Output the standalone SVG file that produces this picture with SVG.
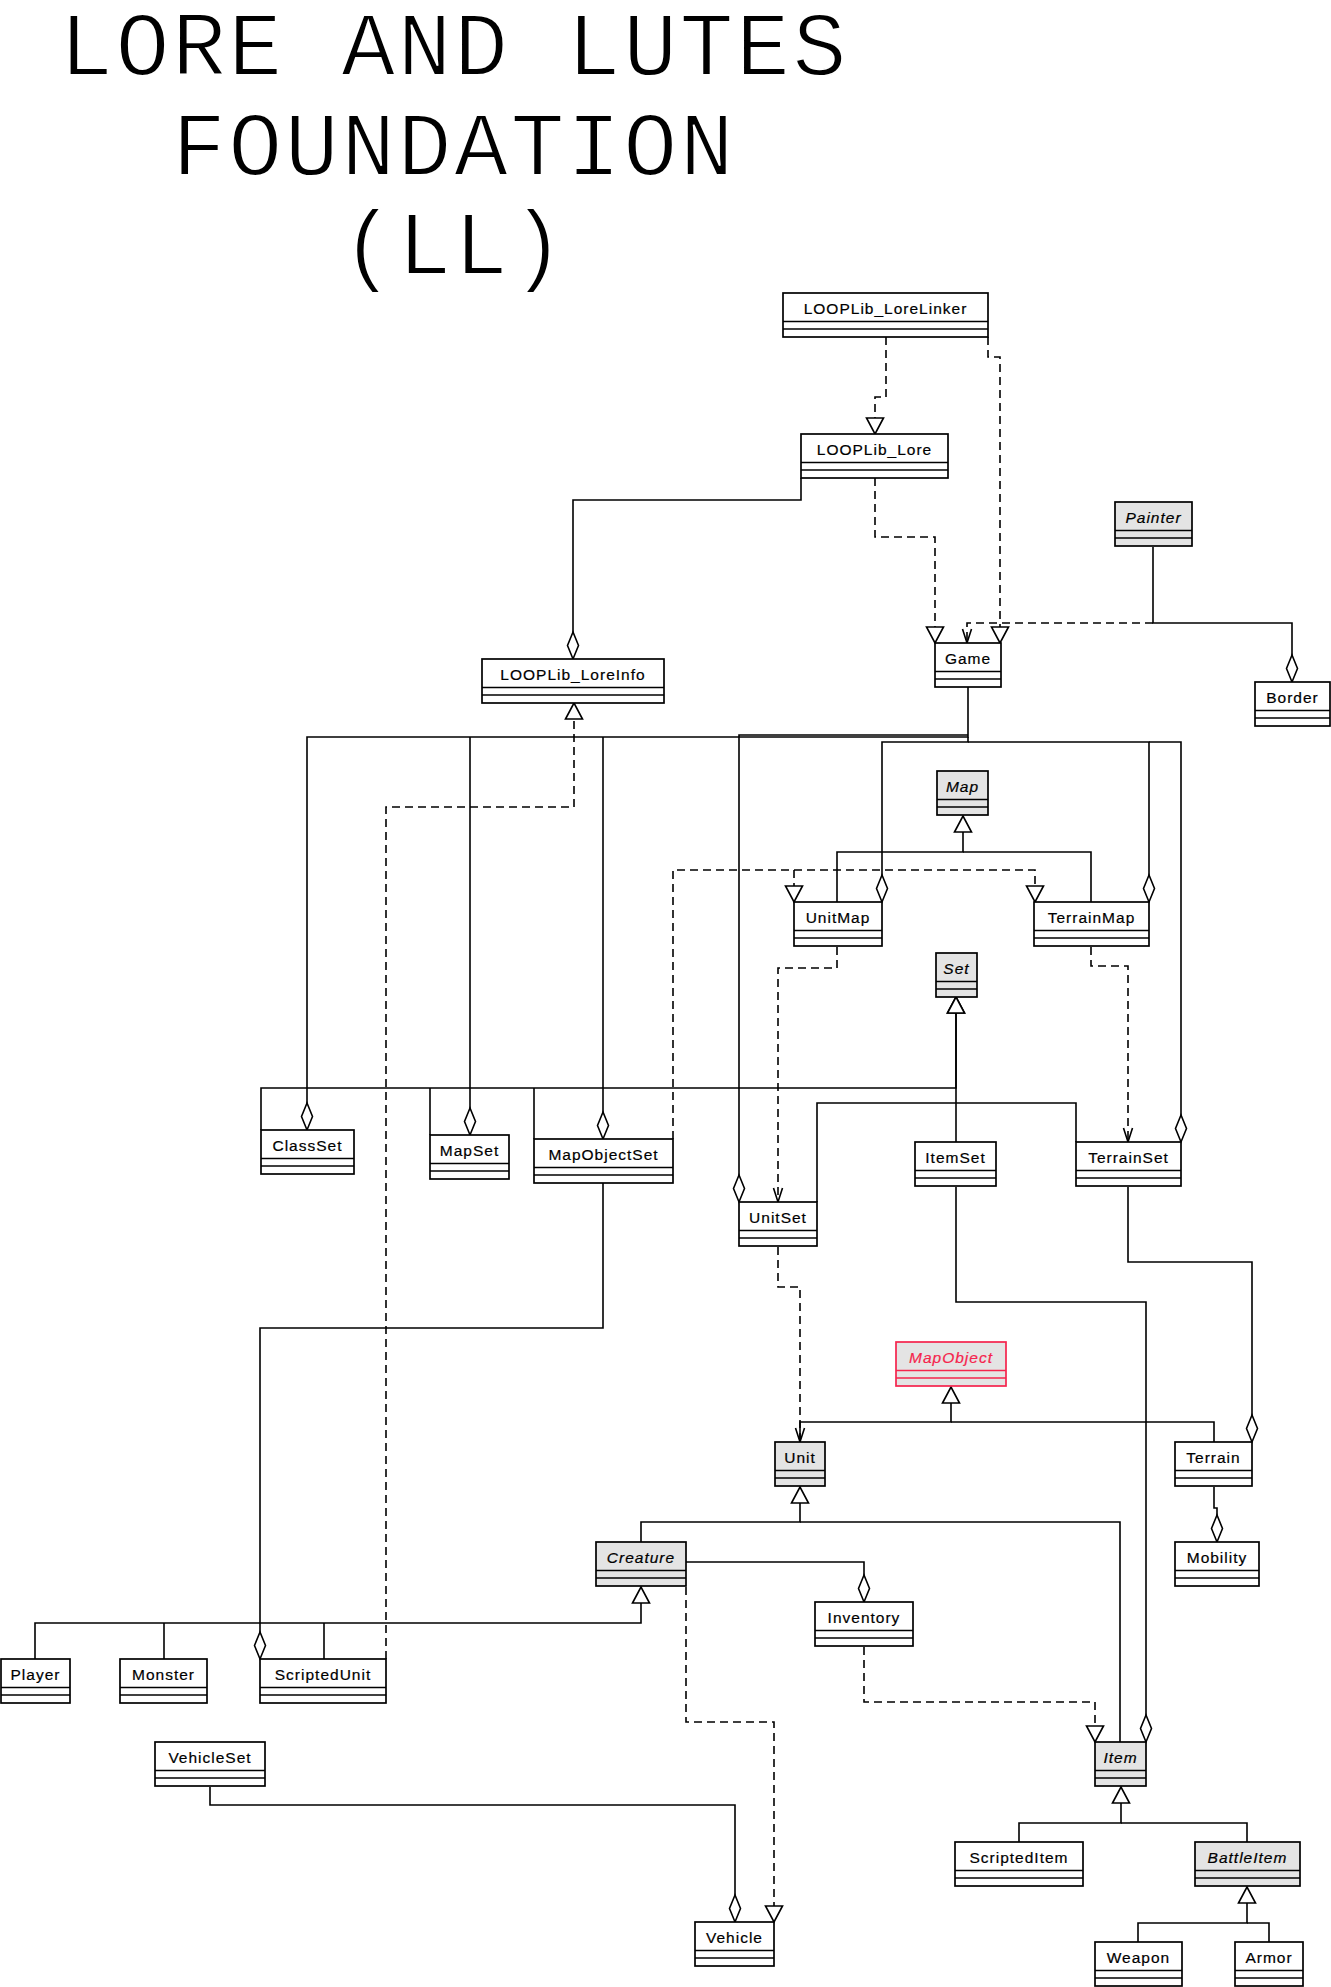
<svg xmlns="http://www.w3.org/2000/svg" width="1331" height="1987" viewBox="0 0 1331 1987">
<style>
.bg{fill:#fff}
.title{font-family:"Liberation Mono","Courier New",monospace;font-size:90px;letter-spacing:2.4px;text-anchor:middle;fill:#000;stroke:#fff;stroke-width:1.8px}
.box rect{fill:#fff;stroke:#000;stroke-width:1.7}
.box line{stroke:#000;stroke-width:1.7}
.box text{font-family:"Liberation Sans",Arial,sans-serif;font-size:15.5px;letter-spacing:1px;text-anchor:middle;fill:#000;stroke:#000;stroke-width:0.2px}
.box.gray rect{fill:#e4e4e4}
.box.it text{font-style:italic}
.box.red rect{stroke:#f5244d}
.box.red line{stroke:#f5244d}
.box.red text{fill:#f5244d;stroke:#f5244d}
.c path{fill:none;stroke:#000;stroke-width:1.6}
.c .d{stroke-dasharray:8,5}
.c .gen{marker-end:url(#tri)}
.c .agg{marker-end:url(#dia)}
.c .dep{marker-end:url(#open)}
</style>
<defs>
<marker id="tri" markerUnits="userSpaceOnUse" markerWidth="18" markerHeight="18" refX="16" refY="8.5" orient="auto" overflow="visible">
<path d="M0,0 L16,8.5 L0,17 Z" fill="#fff" stroke="#000" stroke-width="1.6"/>
</marker>
<marker id="dia" markerUnits="userSpaceOnUse" markerWidth="28" markerHeight="12" refX="27" refY="5.5" orient="auto" overflow="visible">
<path d="M0,5.5 L13.5,0 L27,5.5 L13.5,11 Z" fill="#fff" stroke="#000" stroke-width="1.6"/>
</marker>
<marker id="open" markerUnits="userSpaceOnUse" markerWidth="15" markerHeight="10" refX="14" refY="4.5" orient="auto" overflow="visible">
<path d="M0,0 L14,4.5 L0,9" fill="none" stroke="#000" stroke-width="1.6"/>
</marker>
</defs>
<rect class="bg" x="0" y="0" width="1331" height="1987"/>
<g id="title">
<text class="title" x="454" y="75">LORE AND LUTES</text>
<text class="title" x="454" y="175">FOUNDATION</text>
<text class="title" x="454" y="274">(LL)</text>
</g>
<g id="connectors" class="c">
<!-- realizations (dashed, hollow triangle) -->
<path class="d gen" d="M886,337 V397 H875 V434"/>
<path class="d gen" d="M988,337 V357 H1000 V643"/>
<path class="d gen" d="M875,478 V537 H935 V643"/>
<path class="d gen" d="M386,1659 V807 H574 V703"/>
<path class="d gen" d="M673,1139 V870 H794 V902"/>
<path class="d gen" d="M794,870 H1035 V902"/>
<path class="d gen" d="M864,1647 V1702 H1095 V1742"/>
<path class="d gen" d="M686,1587 V1722 H774 V1922"/>
<!-- dependencies (dashed, open arrow) -->
<path class="d dep" d="M1153,623 H967 V643"/>
<path class="d dep" d="M837,947 V968 H778 V1202"/>
<path class="d dep" d="M1091,947 V966 H1128 V1142"/>
<path class="d dep" d="M778,1247 V1287 H800 V1442"/>
<!-- aggregations (solid, hollow diamond) -->
<path class="agg" d="M801,478 V500 H573 V659"/>
<path class="agg" d="M1153,547 V623 H1292 V682"/>
<path class="agg" d="M968,687 V737 H307 V1130"/>
<path class="agg" d="M470,737 V1135"/>
<path class="agg" d="M603,737 V1139"/>
<path class="agg" d="M968,735 H739 V1202"/>
<path class="agg" d="M968,737 V742 H882 V902"/>
<path class="agg" d="M968,742 H1149 V902"/>
<path class="agg" d="M1149,742 H1181 V1142"/>
<path class="agg" d="M603,1183 V1328 H260 V1659"/>
<path class="agg" d="M956,1187 V1302 H1146 V1742"/>
<path class="agg" d="M1128,1187 V1262 H1252 V1442"/>
<path class="agg" d="M1214,1487 V1508 H1217 V1542"/>
<path class="agg" d="M686,1562 H864 V1602"/>
<path class="agg" d="M210,1787 V1805 H735 V1922"/>
<!-- generalizations (solid, hollow triangle) -->
<path d="M1091,902 V852 H963"/>
<path class="gen" d="M837,902 V852 H963 V816"/>
<path d="M430,1135 V1088"/>
<path d="M534,1139 V1088"/>
<path d="M817,1202 V1103 H1076 V1142"/>
<path class="gen" d="M261,1130 V1088 H956 V997"/>
<path class="gen" d="M956,1142 V997"/>
<path d="M1214,1442 V1422 H951"/>
<path class="gen" d="M800,1442 V1422 H951 V1387"/>
<path d="M1120,1742 V1522 H800"/>
<path class="gen" d="M641,1542 V1522 H800 V1487"/>
<path d="M164,1659 V1623"/>
<path d="M324,1659 V1623"/>
<path class="gen" d="M35,1659 V1623 H641 V1587"/>
<path d="M1247,1842 V1823 H1121"/>
<path class="gen" d="M1019,1842 V1823 H1121 V1787"/>
<path d="M1269,1942 V1923 H1247"/>
<path class="gen" d="M1138,1942 V1923 H1247 V1887"/>
</g>
<g id="n-LOOPLib_LoreLinker" class="box"><rect x="783" y="293" width="205" height="44"/><line x1="783" y1="321.5" x2="988" y2="321.5"/><line x1="783" y1="329" x2="988" y2="329"/><text x="885.5" y="313.5">LOOPLib_LoreLinker</text></g>
<g id="n-LOOPLib_Lore" class="box"><rect x="801" y="434" width="147" height="44"/><line x1="801" y1="462.5" x2="948" y2="462.5"/><line x1="801" y1="470" x2="948" y2="470"/><text x="874.5" y="454.5">LOOPLib_Lore</text></g>
<g id="n-LOOPLib_LoreInfo" class="box"><rect x="482" y="659" width="182" height="44"/><line x1="482" y1="687.5" x2="664" y2="687.5"/><line x1="482" y1="695" x2="664" y2="695"/><text x="573" y="679.5">LOOPLib_LoreInfo</text></g>
<g id="n-Painter" class="box gray it"><rect x="1115" y="502" width="77" height="44"/><line x1="1115" y1="530.5" x2="1192" y2="530.5"/><line x1="1115" y1="538" x2="1192" y2="538"/><text x="1153.5" y="522.5">Painter</text></g>
<g id="n-Game" class="box"><rect x="935" y="643" width="66" height="44"/><line x1="935" y1="671.5" x2="1001" y2="671.5"/><line x1="935" y1="679" x2="1001" y2="679"/><text x="968" y="663.5">Game</text></g>
<g id="n-Border" class="box"><rect x="1255" y="682" width="75" height="44"/><line x1="1255" y1="710.5" x2="1330" y2="710.5"/><line x1="1255" y1="718" x2="1330" y2="718"/><text x="1292.5" y="702.5">Border</text></g>
<g id="n-Map" class="box gray it"><rect x="937" y="771" width="51" height="44"/><line x1="937" y1="799.5" x2="988" y2="799.5"/><line x1="937" y1="807" x2="988" y2="807"/><text x="962.5" y="791.5">Map</text></g>
<g id="n-UnitMap" class="box"><rect x="794" y="902" width="88" height="44"/><line x1="794" y1="930.5" x2="882" y2="930.5"/><line x1="794" y1="938" x2="882" y2="938"/><text x="838" y="922.5">UnitMap</text></g>
<g id="n-TerrainMap" class="box"><rect x="1034" y="902" width="115" height="44"/><line x1="1034" y1="930.5" x2="1149" y2="930.5"/><line x1="1034" y1="938" x2="1149" y2="938"/><text x="1091.5" y="922.5">TerrainMap</text></g>
<g id="n-Set" class="box gray it"><rect x="936" y="953" width="41" height="44"/><line x1="936" y1="981.5" x2="977" y2="981.5"/><line x1="936" y1="989" x2="977" y2="989"/><text x="956.5" y="973.5">Set</text></g>
<g id="n-ClassSet" class="box"><rect x="261" y="1130" width="93" height="44"/><line x1="261" y1="1158.5" x2="354" y2="1158.5"/><line x1="261" y1="1166" x2="354" y2="1166"/><text x="307.5" y="1150.5">ClassSet</text></g>
<g id="n-MapSet" class="box"><rect x="430" y="1135" width="79" height="44"/><line x1="430" y1="1163.5" x2="509" y2="1163.5"/><line x1="430" y1="1171" x2="509" y2="1171"/><text x="469.5" y="1155.5">MapSet</text></g>
<g id="n-MapObjectSet" class="box"><rect x="534" y="1139" width="139" height="44"/><line x1="534" y1="1167.5" x2="673" y2="1167.5"/><line x1="534" y1="1175" x2="673" y2="1175"/><text x="603.5" y="1159.5">MapObjectSet</text></g>
<g id="n-UnitSet" class="box"><rect x="739" y="1202" width="78" height="44"/><line x1="739" y1="1230.5" x2="817" y2="1230.5"/><line x1="739" y1="1238" x2="817" y2="1238"/><text x="778" y="1222.5">UnitSet</text></g>
<g id="n-ItemSet" class="box"><rect x="915" y="1142" width="81" height="44"/><line x1="915" y1="1170.5" x2="996" y2="1170.5"/><line x1="915" y1="1178" x2="996" y2="1178"/><text x="955.5" y="1162.5">ItemSet</text></g>
<g id="n-TerrainSet" class="box"><rect x="1076" y="1142" width="105" height="44"/><line x1="1076" y1="1170.5" x2="1181" y2="1170.5"/><line x1="1076" y1="1178" x2="1181" y2="1178"/><text x="1128.5" y="1162.5">TerrainSet</text></g>
<g id="n-MapObject" class="box gray it red"><rect x="896" y="1342" width="110" height="44"/><line x1="896" y1="1370.5" x2="1006" y2="1370.5"/><line x1="896" y1="1378" x2="1006" y2="1378"/><text x="951" y="1362.5">MapObject</text></g>
<g id="n-Unit" class="box gray"><rect x="775" y="1442" width="50" height="44"/><line x1="775" y1="1470.5" x2="825" y2="1470.5"/><line x1="775" y1="1478" x2="825" y2="1478"/><text x="800" y="1462.5">Unit</text></g>
<g id="n-Terrain" class="box"><rect x="1175" y="1442" width="77" height="44"/><line x1="1175" y1="1470.5" x2="1252" y2="1470.5"/><line x1="1175" y1="1478" x2="1252" y2="1478"/><text x="1213.5" y="1462.5">Terrain</text></g>
<g id="n-Mobility" class="box"><rect x="1175" y="1542" width="84" height="44"/><line x1="1175" y1="1570.5" x2="1259" y2="1570.5"/><line x1="1175" y1="1578" x2="1259" y2="1578"/><text x="1217" y="1562.5">Mobility</text></g>
<g id="n-Creature" class="box gray it"><rect x="596" y="1542" width="90" height="44"/><line x1="596" y1="1570.5" x2="686" y2="1570.5"/><line x1="596" y1="1578" x2="686" y2="1578"/><text x="641" y="1562.5">Creature</text></g>
<g id="n-Inventory" class="box"><rect x="815" y="1602" width="98" height="44"/><line x1="815" y1="1630.5" x2="913" y2="1630.5"/><line x1="815" y1="1638" x2="913" y2="1638"/><text x="864" y="1622.5">Inventory</text></g>
<g id="n-Player" class="box"><rect x="1" y="1659" width="69" height="44"/><line x1="1" y1="1687.5" x2="70" y2="1687.5"/><line x1="1" y1="1695" x2="70" y2="1695"/><text x="35.5" y="1679.5">Player</text></g>
<g id="n-Monster" class="box"><rect x="120" y="1659" width="87" height="44"/><line x1="120" y1="1687.5" x2="207" y2="1687.5"/><line x1="120" y1="1695" x2="207" y2="1695"/><text x="163.5" y="1679.5">Monster</text></g>
<g id="n-ScriptedUnit" class="box"><rect x="260" y="1659" width="126" height="44"/><line x1="260" y1="1687.5" x2="386" y2="1687.5"/><line x1="260" y1="1695" x2="386" y2="1695"/><text x="323" y="1679.5">ScriptedUnit</text></g>
<g id="n-VehicleSet" class="box"><rect x="155" y="1742" width="110" height="44"/><line x1="155" y1="1770.5" x2="265" y2="1770.5"/><line x1="155" y1="1778" x2="265" y2="1778"/><text x="210" y="1762.5">VehicleSet</text></g>
<g id="n-Item" class="box gray it"><rect x="1095" y="1742" width="51" height="44"/><line x1="1095" y1="1770.5" x2="1146" y2="1770.5"/><line x1="1095" y1="1778" x2="1146" y2="1778"/><text x="1120.5" y="1762.5">Item</text></g>
<g id="n-ScriptedItem" class="box"><rect x="955" y="1842" width="128" height="44"/><line x1="955" y1="1870.5" x2="1083" y2="1870.5"/><line x1="955" y1="1878" x2="1083" y2="1878"/><text x="1019" y="1862.5">ScriptedItem</text></g>
<g id="n-BattleItem" class="box gray it"><rect x="1195" y="1842" width="105" height="44"/><line x1="1195" y1="1870.5" x2="1300" y2="1870.5"/><line x1="1195" y1="1878" x2="1300" y2="1878"/><text x="1247.5" y="1862.5">BattleItem</text></g>
<g id="n-Vehicle" class="box"><rect x="695" y="1922" width="79" height="44"/><line x1="695" y1="1950.5" x2="774" y2="1950.5"/><line x1="695" y1="1958" x2="774" y2="1958"/><text x="734.5" y="1942.5">Vehicle</text></g>
<g id="n-Weapon" class="box"><rect x="1095" y="1942" width="87" height="44"/><line x1="1095" y1="1970.5" x2="1182" y2="1970.5"/><line x1="1095" y1="1978" x2="1182" y2="1978"/><text x="1138.5" y="1962.5">Weapon</text></g>
<g id="n-Armor" class="box"><rect x="1235" y="1942" width="68" height="44"/><line x1="1235" y1="1970.5" x2="1303" y2="1970.5"/><line x1="1235" y1="1978" x2="1303" y2="1978"/><text x="1269" y="1962.5">Armor</text></g>
</svg>
